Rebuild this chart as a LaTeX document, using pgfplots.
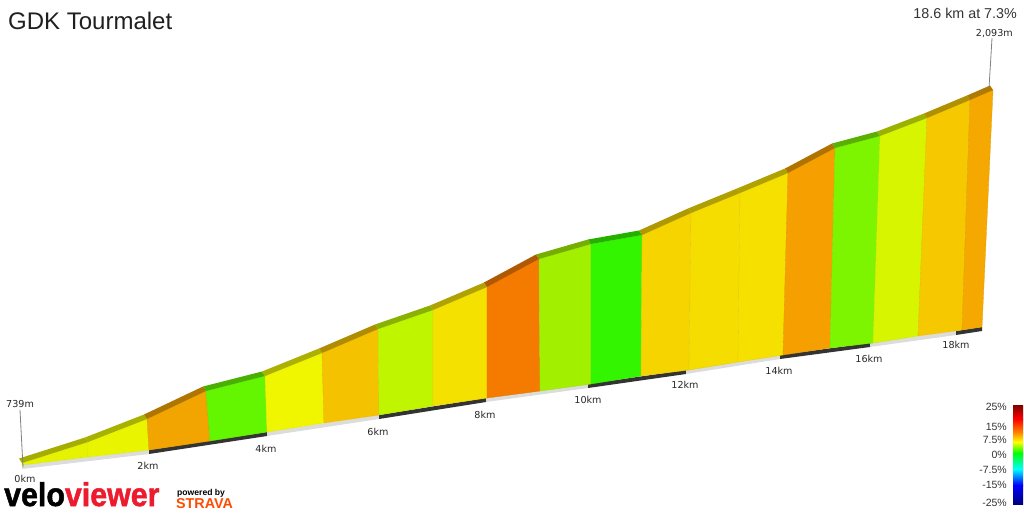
\documentclass[border=0pt]{standalone}
\usepackage{pgfplots}
\pgfplotsset{compat=1.18}
\usepackage{fontspec}
\setmainfont{Liberation Sans}
\newfontfamily\dejavu{DejaVu Sans}
\newfontfamily\logofont[FakeBold=1.6]{Liberation Sans Bold}
\definecolor{s1}{HTML}{E5F200}
\definecolor{s2}{HTML}{E9F500}
\definecolor{s3}{HTML}{F2A400}
\definecolor{s4}{HTML}{64F500}
\definecolor{s5}{HTML}{F0F500}
\definecolor{s6}{HTML}{F5C200}
\definecolor{s7}{HTML}{C0F500}
\definecolor{s8}{HTML}{F5E100}
\definecolor{s9}{HTML}{F57B00}
\definecolor{s10}{HTML}{A2F000}
\definecolor{s11}{HTML}{33F500}
\definecolor{s12}{HTML}{F5D400}
\definecolor{s13}{HTML}{F5DD00}
\definecolor{s14}{HTML}{F5E000}
\definecolor{s15}{HTML}{F5A000}
\definecolor{s16}{HTML}{7DF500}
\definecolor{s17}{HTML}{D8F500}
\definecolor{s18}{HTML}{F5C800}
\definecolor{s19}{HTML}{F5A800}
\definecolor{bandlight}{HTML}{DCDCDC}
\definecolor{banddark}{HTML}{333333}
\definecolor{vvred}{HTML}{EC1C2E}
\definecolor{strava}{HTML}{FC4C02}
% segment: color, xb1,yb1,xt1,yt1, xb2,yb2,xt2,yt2 (pixel units, y downward)
\newcommand\seg[9]{%
  \addplot[fill=#1,draw=#1!92!black,line width=0.3pt] coordinates {(#2,#3) (#6,#7) (#8,#9) (#4,#5) (#2,#3)};}
\newcommand\strip[5]{%
  \pgfmathsetmacro\sxa{#2-3}\pgfmathsetmacro\sya{#3-4.5}%
  \pgfmathsetmacro\sxb{#4-3}\pgfmathsetmacro\syb{#5-4.5}%
  \addplot[fill=#1!72!black,draw=none] coordinates {(#2,#3) (#4,#5) (\sxb,\syb) (\sxa,\sya)};}
\newcommand\band[5]{%
  \pgfmathsetmacro\bya{#3+4}\pgfmathsetmacro\byb{#5+4}%
  \addplot[fill=#1,draw=none] coordinates {(#2,#3) (#4,#5) (#4,\byb) (#2,\bya)};}
\begin{document}
\begin{tikzpicture}
\useasboundingbox (0,0) rectangle (1024pt,512pt);
\begin{axis}[at={(0,0)}, anchor=south west, width=1024pt, height=512pt,
  scale only axis, xmin=0, xmax=1024, ymin=0, ymax=512, y dir=reverse,
  hide axis, clip=false]
% base bands (alternating every 2 km)
\band{bandlight}{22}{465}{149}{450}
\band{banddark}{149}{450}{267}{432}
\band{bandlight}{267}{432}{379}{415}
\band{banddark}{379}{415}{486}{398}
\band{bandlight}{486}{398}{588}{384}
\band{banddark}{588}{384}{686}{370}
\band{bandlight}{686}{370}{780}{355}
\band{banddark}{780}{355}{870}{343}
\band{bandlight}{870}{343}{956}{331}
\band{banddark}{956}{331}{982}{327}
% segments
\seg{s1}{22}{465}{22}{463}{88}{457}{88}{442}
\seg{s2}{88}{457}{88}{442}{149}{450}{147}{419}
\seg{s3}{149}{450}{147}{419}{210}{441}{206}{391}
\seg{s4}{210}{441}{206}{391}{267}{432}{265}{376}
\seg{s5}{267}{432}{265}{376}{324}{423}{322}{353}
\seg{s6}{324}{423}{322}{353}{379}{415}{378}{329}
\seg{s7}{379}{415}{378}{329}{433}{406}{433}{310}
\seg{s8}{433}{406}{433}{310}{487}{398}{487}{287}
\seg{s9}{487}{398}{487}{287}{540}{391}{539}{259}
\seg{s10}{540}{391}{539}{259}{591}{384}{591}{244}
\seg{s11}{591}{384}{591}{244}{641}{376}{642}{235}
\seg{s12}{641}{376}{642}{235}{689}{370}{691}{213}
\seg{s13}{689}{370}{691}{213}{738}{362}{740}{193}
\seg{s14}{738}{362}{740}{193}{783}{355}{788}{173}
\seg{s15}{783}{355}{788}{173}{830}{348}{835}{148}
\seg{s16}{830}{348}{835}{148}{873}{343}{880}{136}
\seg{s17}{873}{343}{880}{136}{918}{336}{927}{118}
\seg{s18}{918}{336}{927}{118}{962}{330}{970}{100}
\seg{s19}{962}{330}{970}{100}{982}{327}{993}{90}
% top strips
\strip{s1}{22}{463}{88}{442}
\strip{s2}{88}{442}{147}{419}
\strip{s3}{147}{419}{206}{391}
\strip{s4}{206}{391}{265}{376}
\strip{s5}{265}{376}{322}{353}
\strip{s6}{322}{353}{378}{329}
\strip{s7}{378}{329}{433}{310}
\strip{s8}{433}{310}{487}{287}
\strip{s9}{487}{287}{539}{259}
\strip{s10}{539}{259}{591}{244}
\strip{s11}{591}{244}{642}{235}
\strip{s12}{642}{235}{691}{213}
\strip{s13}{691}{213}{740}{193}
\strip{s14}{740}{193}{788}{173}
\strip{s15}{788}{173}{835}{148}
\strip{s16}{835}{148}{880}{136}
\strip{s17}{880}{136}{927}{118}
\strip{s18}{927}{118}{970}{100}
\strip{s19}{970}{100}{993}{90}
% elevation marker lines
\draw[gray, line width=0.8pt] (axis cs:20,410) -- (axis cs:23,467);
\draw[gray, line width=0.8pt] (axis cs:992,38) -- (axis cs:989,88);
% texts
\node[anchor=base west, inner sep=0, text=black!88] at (axis cs:8,29) {\fontsize{24}{28}\selectfont GDK Tourmalet};
\node[anchor=base east, inner sep=0, text=black!80] at (axis cs:1017,18) {\fontsize{14.3}{16}\selectfont 18.6 km at 7.3\%};
\node[anchor=base east, inner sep=0, text=black!85] at (axis cs:1013,36) {\dejavu\fontsize{9.6}{11}\selectfont 2,093m};
\node[anchor=base west, inner sep=0, text=black!85] at (axis cs:6,407) {\dejavu\fontsize{9.6}{11}\selectfont 739m};
\foreach \lx/\ly/\lt in {25/482/0km,148/469/2km,266/452/4km,378/435/6km,485/418/8km,588/403/10km,685/388/12km,779/374/14km,869/362/16km,956/348/18km}{
  \edef\tmp{\noexpand\node[anchor=base, inner sep=0, text=black!85] at (axis cs:\lx,\ly) {\noexpand\dejavu\noexpand\fontsize{9.6}{11}\noexpand\selectfont \lt};}
  \tmp
}
% colour bar
\shade[top color={rgb,255:red,127;green,0;blue,0}, bottom color={rgb,255:red,255;green,0;blue,0}] (axis cs:1013,405) rectangle (axis cs:1023,419);
\shade[top color={rgb,255:red,255;green,0;blue,0}, bottom color={rgb,255:red,255;green,128;blue,0}] (axis cs:1013,419) rectangle (axis cs:1023,432);
\shade[top color={rgb,255:red,255;green,128;blue,0}, bottom color={rgb,255:red,255;green,255;blue,0}] (axis cs:1013,432) rectangle (axis cs:1023,442);
\shade[top color={rgb,255:red,255;green,255;blue,0}, bottom color={rgb,255:red,0;green,255;blue,0}] (axis cs:1013,442) rectangle (axis cs:1023,453);
\shade[top color={rgb,255:red,0;green,255;blue,0}, bottom color={rgb,255:red,0;green,255;blue,255}] (axis cs:1013,453) rectangle (axis cs:1023,469);
\shade[top color={rgb,255:red,0;green,255;blue,255}, bottom color={rgb,255:red,0;green,0;blue,255}] (axis cs:1013,469) rectangle (axis cs:1023,485);
\shade[top color={rgb,255:red,0;green,0;blue,255}, bottom color={rgb,255:red,0;green,0;blue,127}] (axis cs:1013,485) rectangle (axis cs:1023,504);
\foreach \cy/\ct in {410/25\%,430/15\%,443/7.5\%,458/0\%,473/-7.5\%,488/-15\%,506/-25\%}{
  \edef\tmp{\noexpand\node[anchor=base east, inner sep=0, text=black!80] at (axis cs:1007,\cy) {\noexpand\fontsize{10.5}{12}\noexpand\selectfont \ct};}
  \tmp
}
% logos
\node[anchor=base west, inner sep=0] at (axis cs:4,506) {\scalebox{0.92}[1]{\logofont\fontsize{33}{33}\selectfont\color{black}velo\color{vvred}viewer}};
\node[anchor=base west, inner sep=0] at (axis cs:177,495) {\fontsize{8.6}{10}\selectfont\bfseries powered by};
\node[anchor=base west, inner sep=0] at (axis cs:176,508) {\fontsize{14.3}{16}\selectfont\bfseries\color{strava}STRAVA};
\end{axis}
\end{tikzpicture}
\end{document}
